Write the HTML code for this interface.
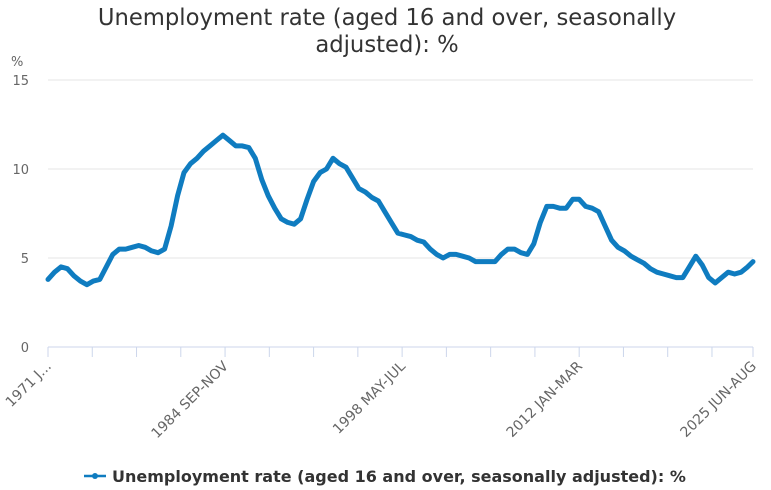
<!DOCTYPE html>
<html><head><meta charset="utf-8"><style>
body{margin:0;background:#fff;font-family:"Liberation Sans","DejaVu Sans",sans-serif}
svg{display:block}
</style></head><body>
<svg id="chart" width="771" height="490" xmlns="http://www.w3.org/2000/svg">
<text x="387" y="25" text-anchor="middle" font-size="22.7" fill="#333" font-family="DejaVu Sans, sans-serif">Unemployment rate (aged 16 and over, seasonally</text>
<text x="387" y="52" text-anchor="middle" font-size="22.7" fill="#333" font-family="DejaVu Sans, sans-serif">adjusted): %</text>
<text x="11" y="66" font-size="13" fill="#666" font-family="DejaVu Sans, sans-serif">%</text>
<g id="grid"></g><g id="xaxis"></g><g id="series"></g>
<g>
<line x1="84" y1="476" x2="106" y2="476" stroke="#0f7cc0" stroke-width="2.5"/>
<circle cx="95" cy="476" r="3" fill="#0f7cc0"/>
<text x="112" y="482" font-size="16" font-weight="bold" fill="#333" font-family="DejaVu Sans, sans-serif">Unemployment rate (aged 16 and over, seasonally adjusted): %</text>
</g>
</svg>
<script>
const yTicks=[0,5,10,15];
const xTickLabels=["1971 J...","1984 SEP-NOV","1998 MAY-JUL","2012 JAN-MAR","2025 JUN-AUG"];
const xTickLabelMonths=[0,164,328,492,653];
const values=[3.8,4.2,4.5,4.4,4.0,3.7,3.5,3.7,3.8,4.5,5.2,5.5,5.5,5.6,5.7,5.6,5.4,5.3,5.5,6.8,8.5,9.8,10.3,10.6,11.0,11.3,11.6,11.9,11.6,11.3,11.3,11.2,10.6,9.4,8.5,7.8,7.2,7.0,6.9,7.2,8.3,9.3,9.8,10.0,10.6,10.3,10.1,9.5,8.9,8.7,8.4,8.2,7.6,7.0,6.4,6.3,6.2,6.0,5.9,5.5,5.2,5.0,5.2,5.2,5.1,5.0,4.8,4.8,4.8,4.8,5.2,5.5,5.5,5.3,5.2,5.8,7.0,7.9,7.9,7.8,7.8,8.3,8.3,7.9,7.8,7.6,6.8,6.0,5.6,5.4,5.1,4.9,4.7,4.4,4.2,4.1,4.0,3.9,3.9,4.5,5.1,4.6,3.9,3.6,3.9,4.2,4.1,4.2,4.5,4.8];
const NS="http://www.w3.org/2000/svg";
const x0=48,x1=753,lastMonth=653,y0=347,yTop=80,yMax=15;
const xs=m=>x0+(x1-x0)*m/lastMonth;
const ys=v=>y0-(y0-yTop)*v/yMax;
function mk(t,a,p){const e=document.createElementNS(NS,t);for(const k in a)e.setAttribute(k,a[k]);p.appendChild(e);return e;}
const grid=document.getElementById('grid');
yTicks.forEach(v=>{
 const l=mk('line',{x1:x0,x2:x1,y1:ys(v),y2:ys(v),stroke:v===0?'#ccd6eb':'#e6e6e6','stroke-width':1},grid);
 
 
 const t=mk('text',{x:29,y:ys(v)+5,'text-anchor':'end','font-size':13,fill:'#666','font-family':'DejaVu Sans, sans-serif'},grid);
 t.textContent=v;
 
 
});
const xa=document.getElementById('xaxis');
for(let m=0;m<=lastMonth;m+=41){
 const l=mk('line',{x1:xs(m),x2:xs(m),y1:y0,y2:y0+10,stroke:'#ccd6eb'},xa);
 
 
}
mk('line',{x1:xs(lastMonth),x2:xs(lastMonth),y1:y0,y2:y0+10,stroke:'#ccd6eb'},xa);
xTickLabels.forEach((s,i)=>{
 const x=xs(xTickLabelMonths[i]);
 const t=mk('text',{x:x+4,y:y0+20,'text-anchor':'end','font-size':14,fill:'#666','font-family':'DejaVu Sans, sans-serif',transform:`rotate(-45 ${x+4} ${y0+20})`},xa);
 t.textContent=s;
 
 
});
const pts=values.map((v,i)=>[xs(Math.min(i*6,lastMonth)),ys(v)]);
const path=mk('path',{d:'M'+pts.map(p=>p[0].toFixed(1)+','+p[1].toFixed(1)).join('L'),fill:'none',stroke:'#0f7cc0','stroke-width':5,'stroke-linejoin':'round','stroke-linecap':'round'},document.getElementById('series'));


</script>
</body></html>
